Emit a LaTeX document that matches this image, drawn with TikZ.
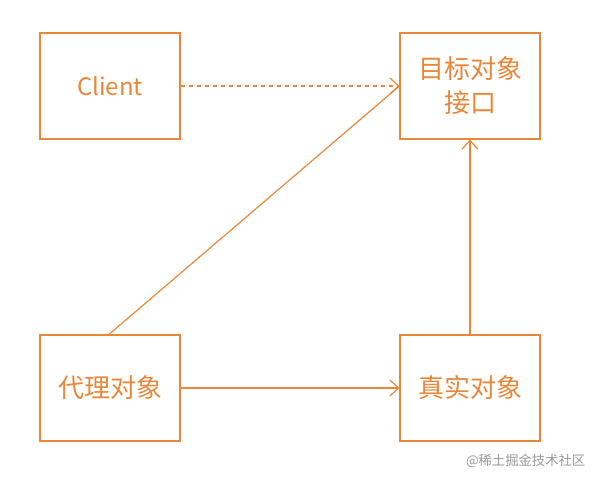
\documentclass[tikz,border=0pt]{standalone}
\usepackage{fontspec}
\setmainfont{Noto Sans CJK SC}
\usetikzlibrary{arrows.meta}
\definecolor{daili}{RGB}{232,135,58}
\tikzset{
  kutu/.style={draw=daili, line width=0.9pt, text=daili, minimum width=105pt,
    minimum height=79.5pt, inner sep=0pt, align=center, font=\fontsize{19.5}{25.5}\selectfont},
  ok/.style={draw=daili, line width=0.9pt, -{Straight Barb[length=6.5pt,width=12pt]}}
}
\begin{document}
\begin{tikzpicture}[x=0.75pt, y=-0.75pt]
  \useasboundingbox (0,0) rectangle (598,482);
  % ust sira
  \node[kutu, font=\fontsize{18}{22}\selectfont] (client) at (110,86) {Client};
  \node[kutu] (hedef) at (470,86) {目标对象\\接口};
  % alt sira
  \node[kutu] (vekil) at (110,388) {代理对象};
  \node[kutu] (gercek) at (470,388) {真实对象};
  % baglantilar
  \draw[ok, dashed] (client) -- (hedef);
  \draw[draw=daili, line width=0.9pt] (vekil.north) ++(-1,0) coordinate (v) -- (hedef.west);
  \draw[ok] (vekil) -- (gercek);
  \draw[ok] (gercek) -- (hedef);
  % filigran
  \node[anchor=east, text=black!40, font=\fontsize{10}{12}\selectfont] (imza) at (590,461) {@稀土掘金技术社区};
\end{tikzpicture}
\end{document}
